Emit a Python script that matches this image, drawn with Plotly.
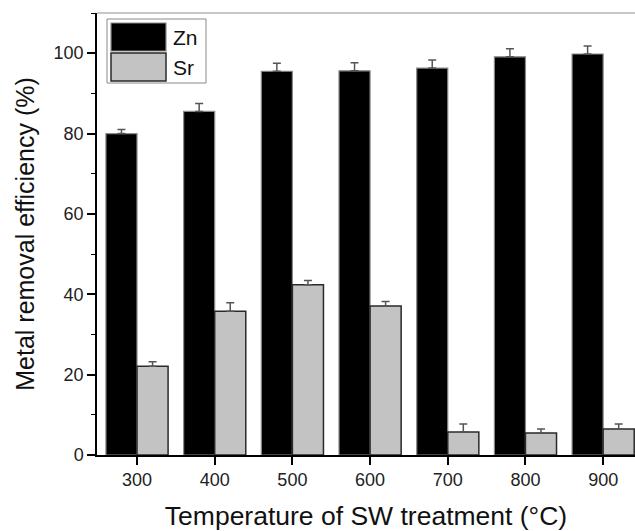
import plotly.graph_objects as go

temperatures = ["300", "400", "500", "600", "700", "800", "900"]
zn_values = [80.0, 85.5, 95.5, 95.6, 96.3, 99.1, 99.8]
zn_errors = [1.0, 2.0, 2.0, 2.0, 2.0, 2.0, 2.0]
sr_values = [22.1, 35.8, 42.4, 37.1, 5.7, 5.5, 6.5]
sr_errors = [1.1, 2.1, 1.0, 1.1, 2.0, 1.0, 1.2]
y_ticks = [0, 20, 40, 60, 80, 100]

FONT = "Arial, 'Liberation Sans', sans-serif"

fig = go.Figure()
fig.add_trace(go.Bar(
    name="Zn", x=temperatures, y=zn_values,
    marker=dict(color="#000000", line=dict(color="#8a8a8a", width=1.2)),
    error_y=dict(type="data", array=zn_errors, arrayminus=[0]*len(zn_errors),
                 symmetric=False, color="#555555", thickness=1.5, width=4),
    showlegend=False,
))
fig.add_trace(go.Bar(
    name="Sr", x=temperatures, y=sr_values,
    marker=dict(color="#c3c3c3", line=dict(color="#2a2a2a", width=1.5)),
    error_y=dict(type="data", array=sr_errors, arrayminus=[0]*len(sr_errors),
                 symmetric=False, color="#555555", thickness=1.5, width=4),
    showlegend=False,
))

L, T, R, B = 97, 13, 635, 455
PW, PH = R - L, B - T
def px(x):
    return (x - L) / PW
def py(y):
    return (B - y) / PH

shapes = [
    # top frame line (gray)
    dict(type="line", xref="paper", yref="paper", x0=0, x1=1, y0=1, y1=1,
         line=dict(color="#b5b5b5", width=1.5)),
    # legend box
    dict(type="rect", xref="paper", yref="paper", x0=px(107), x1=px(206),
         y0=py(83), y1=py(19), line=dict(color="#8a8a8a", width=1), fillcolor="white"),
    dict(type="rect", xref="paper", yref="paper", x0=px(111), x1=px(166),
         y0=py(51), y1=py(23), line=dict(color="#8a8a8a", width=1.2), fillcolor="#000000"),
    dict(type="rect", xref="paper", yref="paper", x0=px(111), x1=px(166),
         y0=py(81), y1=py(53), line=dict(color="#2a2a2a", width=1.5), fillcolor="#c3c3c3"),
]
annotations = [
    dict(text="Zn", xref="paper", yref="paper", x=px(171), y=py(37), xanchor="left",
         yanchor="middle", showarrow=False, font=dict(family=FONT, size=21, color="#111")),
    dict(text="Sr", xref="paper", yref="paper", x=px(171), y=py(67), xanchor="left",
         yanchor="middle", showarrow=False, font=dict(family=FONT, size=21, color="#111")),
]

fig.update_layout(
    width=635, height=531,
    margin=dict(l=L, r=635 - R, t=T, b=531 - B, autoexpand=False),
    paper_bgcolor="white", plot_bgcolor="white",
    barmode="group", bargap=0.2, bargroupgap=0,
    font=dict(family=FONT, color="#222222"),
    shapes=shapes, annotations=annotations,
    xaxis=dict(
        type="category", range=[-0.515, 6.41], automargin=False,
        showline=True, linecolor="#000000", linewidth=1.5,
        ticks="outside", ticklen=8, tickwidth=1.5, tickcolor="#000000",
        showgrid=False, zeroline=False,
        tickfont=dict(family=FONT, size=18, color="#222222"),
        title=dict(text="Temperature of SW treatment (°C)", standoff=17,
                   font=dict(family=FONT, size=26.5, color="#111111")),
    ),
    yaxis=dict(
        range=[0, 110], tickvals=y_ticks, automargin=False,
        showline=True, linecolor="#000000", linewidth=1.5,
        ticks="outside", ticklen=8, tickwidth=1.5, tickcolor="#000000",
        minor=dict(dtick=10, ticks="outside", ticklen=4, tickwidth=1.2, tickcolor="#000000", showgrid=False),
        showgrid=False, zeroline=False,
        tickfont=dict(family=FONT, size=18, color="#222222"),
        title=dict(text="Metal removal efficiency (%)", standoff=12,
                   font=dict(family=FONT, size=25, color="#111111")),
    ),
)

fig.write_html(
    "out.html",
    config={"displayModeBar": False},
    post_script="document.body.style.margin='0';document.body.style.overflow='hidden';",
)
